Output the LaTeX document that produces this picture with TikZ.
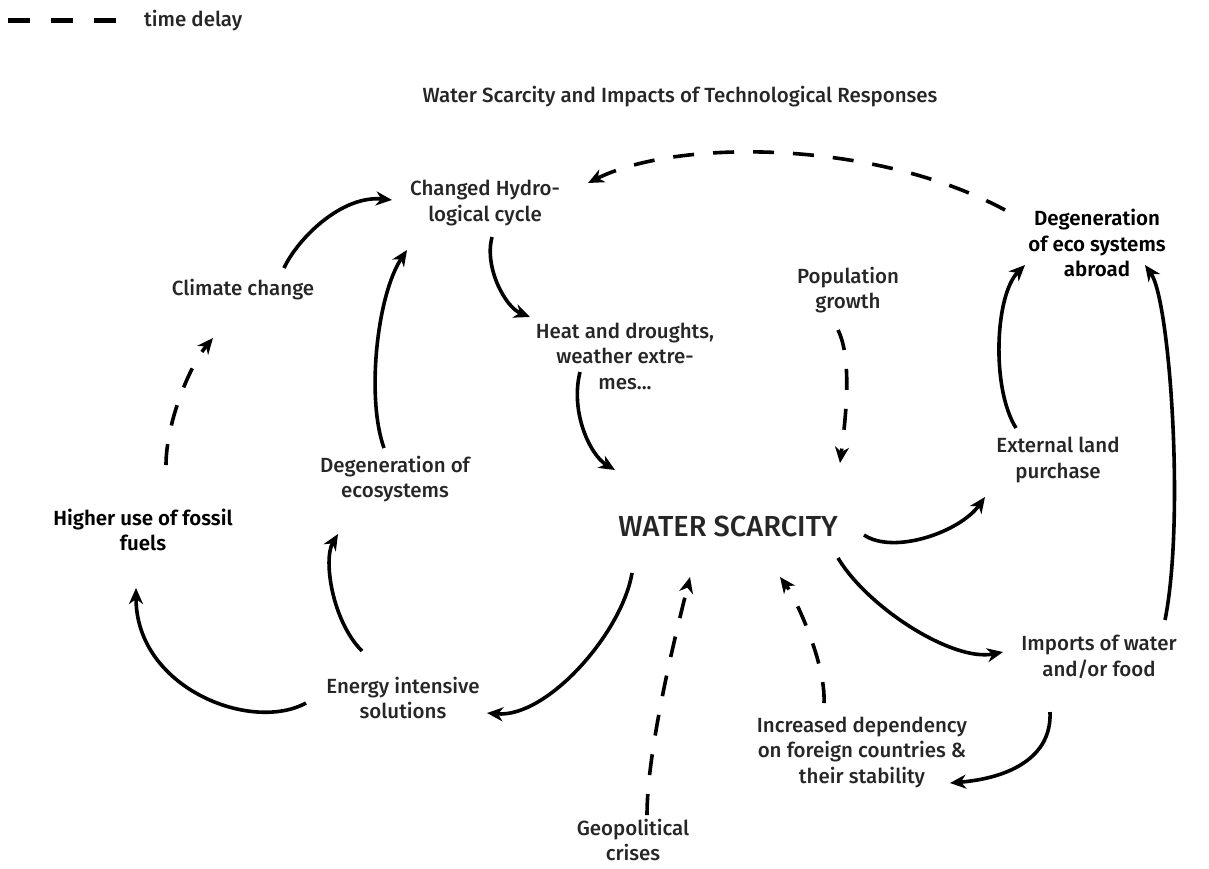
\documentclass[tikz,border=0pt]{standalone}
\usepackage{fontspec}
\setmainfont{Fira Sans Medium}
\newfontfamily\bfam{Fira Sans SemiBold}
\usetikzlibrary{arrows.meta,calc}
\begin{document}
\begin{tikzpicture}[x=1pt,y=-1pt,
  txt/.style={align=center,font=\fontsize{20.5}{25.5}\selectfont,inner sep=0pt,text=black!85},
  btxt/.style={txt,font=\bfam\fontsize{20.5}{25.5}\selectfont,text=black},
  conn/.style={line width=3.6pt,-{Stealth[length=16pt,width=14pt,inset=5pt]}},
  delay/.style={conn,dash pattern=on 21pt off 19pt}]
\useasboundingbox (0,0) rectangle (1209,868);
% legend
\coordinate (l1) at (8,20);
\coordinate (l2) at (118,20);
\draw[line width=5pt,dash pattern=on 22pt off 21pt] (l1) -- (l2);
\node[txt,anchor=west] (legend) at (144,21) {time delay};
% title
\node[txt] (title) at (680,97) {Water Scarcity and Impacts of Technological Responses};
% nodes
\node[txt] (hyd) at (485,203) {Changed Hydro-\\logical cycle};
\node[txt] (clim) at (243,290) {Climate change};
\node[txt] (heat) at (625,356) {Heat and droughts,\\weather extre-\\mes...};
\node[txt] (pop) at (848,290) {Population\\growth};
\node[btxt] (abroad) at (1097,243) {Degeneration\\of eco systems\\abroad};
\node[txt] (degen) at (395,479) {Degeneration of\\ecosystems};
\node[txt] (ext) at (1058,460) {External land\\purchase};
\node[btxt] (fossil) at (143,530) {Higher use of fossil\\fuels};
\node[txt,font=\fontsize{29}{32}\selectfont] (ws) at (728,526) {WATER SCARCITY};
\node[txt] (energy) at (403,698) {Energy intensive\\solutions};
\node[txt] (imports) at (1099,657) {Imports of water\\and/or food};
\node[txt] (dep) at (862,752) {Increased dependency\\on foreign countries \&\\their stability};
\node[txt] (geo) at (633,840) {Geopolitical\\crises};
% connectors
\draw[conn] ($(clim)+(41,-22)$) .. controls +(14,-30) and +(-50,-5) .. ($(hyd)+(-93,-3)$);
\draw[conn] ($(degen)+(-11,-31)$) .. controls +(-18,-50) and +(-30,45) .. ($(hyd)+(-78,47)$);
\draw[delay] ($(fossil)+(23,-65)$) .. controls +(0,-40) and +(-25,30) .. ($(clim)+(-30,48)$);
\draw[conn] ($(energy)+(-41,-47)$) .. controls +(-30,-30) and +(-15,25) .. ($(degen)+(-57,55)$);
\draw[conn] ($(energy)+(-97,5)$) .. controls +(-55,30) and +(0,100) .. ($(fossil)+(-7,58)$);
\draw[conn] ($(ws)+(-96,47)$) .. controls +(-10,60) and +(60,5) .. ($(energy)+(84,15)$);
\draw[conn] ($(hyd)+(7,34)$) .. controls +(-8,30) and +(-25,-10) .. ($(heat)+(-95,-39)$);
\draw[conn] ($(heat)+(-45,16)$) .. controls +(-10,40) and +(-25,-15) .. ($(ws)+(-113,-56)$);
\draw[delay] ($(pop)+(-10,40)$) .. controls +(15,30) and +(5,-40) .. ($(ws)+(112,-63)$);
\draw[conn] ($(ws)+(136,9)$) .. controls +(30,20) and +(-25,35) .. ($(ext)+(-73,37)$);
\draw[conn] ($(ext)+(-42,-32)$) .. controls +(-25,-40) and +(-30,30) .. ($(abroad)+(-72,22)$);
\draw[conn] ($(imports)+(66,-37)$) .. controls +(20,-100) and +(25,35) .. ($(abroad)+(48,22)$);
\draw[conn] ($(ws)+(110,32)$) .. controls +(30,50) and +(-50,10) .. ($(imports)+(-96,-5)$);
\draw[conn] ($(imports)+(-49,55)$) .. controls +(2,45) and +(60,-5) .. ($(dep)+(88,31)$);
\draw[delay] ($(dep)+(-38,-49)$) .. controls +(2,-40) and +(15,20) .. ($(ws)+(52,51)$);
\draw[delay] ($(geo)+(14,-25)$) .. controls +(0,-70) and +(-10,40) .. ($(ws)+(-38,51)$);
\draw[delay] ($(abroad)+(-92,-33)$) .. controls +(-130,-70) and +(90,-45) .. ($(hyd)+(103,-20)$);
\end{tikzpicture}
\end{document}
